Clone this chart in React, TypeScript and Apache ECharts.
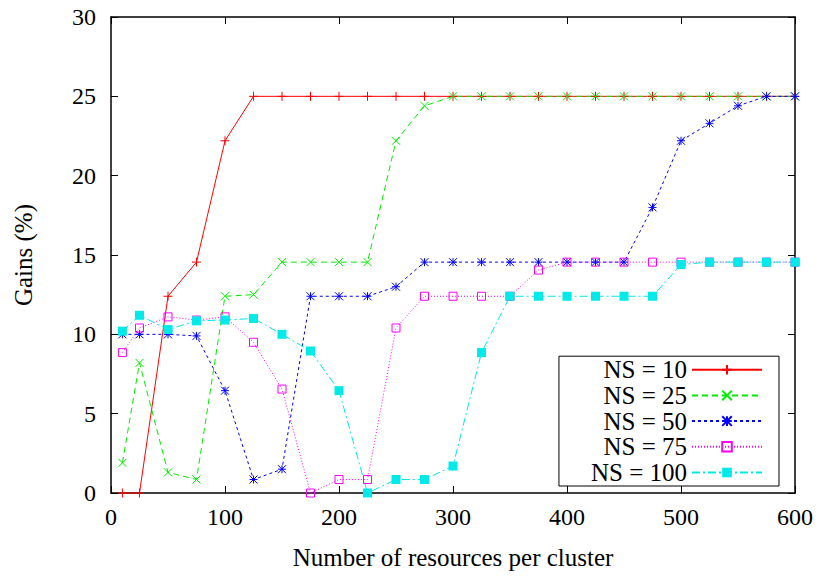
import React, { useEffect, useRef } from 'react';
import * as echarts from 'echarts';

const xValues = [10, 25, 50, 75, 100, 125, 150, 175, 200, 225, 250, 275, 300, 325, 350, 375, 400, 425, 450, 475, 500, 525, 550, 575, 600];

const ns10 = [0, 0, 12.4, 14.55, 22.2, 25, 25, 25, 25, 25, 25, 25, 25, 25, 25, 25, 25, 25, 25, 25, 25, 25, 25, 25, 25];
const ns25 = [1.9, 8.2, 1.3, 0.85, 12.4, 12.5, 14.55, 14.55, 14.55, 14.55, 22.2, 24.4, 25, 25, 25, 25, 25, 25, 25, 25, 25, 25, 25, 25, 25];
const ns50 = [10, 10, 10, 9.9, 6.45, 0.85, 1.5, 12.4, 12.4, 12.4, 13.0, 14.55, 14.55, 14.55, 14.55, 14.55, 14.55, 14.55, 14.55, 18.0, 22.2, 23.3, 24.4, 25, 25];
const ns75 = [8.85, 10.4, 11.1, 10.9, 11.1, 9.5, 6.55, 0, 0.85, 0.85, 10.4, 12.4, 12.4, 12.4, 12.4, 14.05, 14.55, 14.55, 14.55, 14.55, 14.55, 14.55, 14.55, 14.55, 14.55];
const ns100 = [10.2, 11.2, 10.3, 10.85, 10.9, 11.0, 10.0, 8.95, 6.45, 0, 0.85, 0.85, 1.7, 8.85, 12.4, 12.4, 12.4, 12.4, 12.4, 12.4, 14.4, 14.55, 14.55, 14.55, 14.55];

const seriesNames = ['NS = 10', 'NS = 25', 'NS = 50', 'NS = 75', 'NS = 100'];
const xTitle = 'Number of resources per cluster';
const yTitle = 'Gains (%)';

const FONT = "'Liberation Serif', 'DejaVu Serif', serif";

const PLUS = 'path://M0,5L10,5M5,0L5,10';
const CROSS = 'path://M0,0L10,10M0,10L10,0';
const STAR = 'path://M0,5L10,5M5,0L5,10M0,0L10,10M0,10L10,0';

function mk(name: string, values: number[], color: string, lineType: any, symbol: string, symbolSize: number, filled: boolean) {
  return {
    name,
    type: 'line',
    data: xValues.map((x, i) => [x, values[i]]),
    lineStyle: { color, width: 1, type: lineType },
    symbol,
    symbolSize,
    itemStyle: filled
      ? { color, borderWidth: 0 }
      : { color: 'rgba(0,0,0,0)', borderColor: color, borderWidth: 1 },
    emphasis: { disabled: true },
    clip: false,
    z: 3,
  };
}

export default function App() {
  const ref = useRef<HTMLDivElement>(null);
  useEffect(() => {
    if (!ref.current) return;
    const chart = echarts.init(ref.current, null, { renderer: 'svg' });
    const axisCommon = {
      axisLine: { show: true, onZero: false, lineStyle: { color: '#000', width: 1.5 } },
      axisTick: { show: true, inside: true, length: 7, lineStyle: { color: '#000', width: 1 } },
      splitLine: { show: false },
    };
    chart.setOption({
      animation: false,
      backgroundColor: '#fff',
      grid: { left: 111, right: 24, top: 17, bottom: 84, containLabel: false },
      xAxis: [
        {
          type: 'value', min: 0, max: 600, interval: 100, position: 'bottom',
          ...axisCommon,
          axisLabel: { margin: 12, fontFamily: FONT, fontSize: 24, color: '#000' },
          name: xTitle, nameLocation: 'middle', nameGap: 52,
          nameTextStyle: { fontFamily: FONT, fontSize: 25, color: '#000' },
        },
        {
          type: 'value', min: 0, max: 600, interval: 100, position: 'top',
          ...axisCommon,
          axisLabel: { show: false },
        },
      ],
      yAxis: [
        {
          type: 'value', min: 0, max: 30, interval: 5, position: 'left',
          ...axisCommon,
          axisLabel: { margin: 15, fontFamily: FONT, fontSize: 24, color: '#000' },
          name: yTitle, nameLocation: 'middle', nameGap: 75,
          nameTextStyle: { fontFamily: FONT, fontSize: 25, color: '#000' },
        },
        {
          type: 'value', min: 0, max: 30, interval: 5, position: 'right',
          ...axisCommon,
          axisLabel: { show: false },
        },
      ],
      legend: {
        orient: 'vertical',
        right: 40,
        bottom: 91,
        align: 'right',
        itemWidth: 70,
        itemHeight: 12,
        itemGap: 0.7,
        selectedMode: false,
        backgroundColor: '#fff',
        borderColor: '#000',
        borderWidth: 1,
        borderRadius: 0,
        padding: [1, 16, 1, 32],
        textStyle: { fontFamily: FONT, fontSize: 25, color: '#000' },
        data: seriesNames,
      },
      series: [
        mk(seriesNames[0], ns10, '#ff0000', 'solid', PLUS, 9, false),
        mk(seriesNames[1], ns25, '#00ee00', [6, 4], CROSS, 8, false),
        mk(seriesNames[2], ns50, '#0000ff', [3, 3], STAR, 8, false),
        mk(seriesNames[3], ns75, '#ff00ff', [1, 2], 'rect', 8, false),
        mk(seriesNames[4], ns100, '#00eaea', [8, 3, 2, 3], 'rect', 9, true),
      ],
    });
    return () => chart.dispose();
  }, []);
  return <div ref={ref} style={{ position: 'fixed', left: 0, top: 0, width: 819, height: 577 }} />;
}
